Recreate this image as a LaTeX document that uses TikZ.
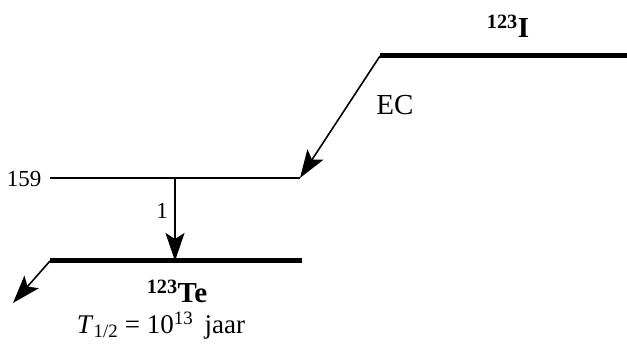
\documentclass[tikz,border=0pt]{standalone}
\usepackage{fontspec}
\setmainfont{Liberation Serif}
\usetikzlibrary{arrows.meta}
\begin{document}
\begin{tikzpicture}[x=1pt,y=-1pt,
  level/.style={line width=5pt},
  thinlevel/.style={line width=2pt},
  trans/.style={line width=1.6pt,-{Stealth[length=28pt,width=19pt,inset=6pt]}},
  lbl/.style={inner sep=0pt,font=\fontsize{29}{34}\selectfont},
  small/.style={inner sep=0pt,font=\fontsize{23}{27}\selectfont}]
\useasboundingbox (0,0) rectangle (627,347);
% levels
\coordinate (iL) at (380,56);
\coordinate (iR) at (627,56);
\coordinate (mL) at (50,178);
\coordinate (mR) at (300,178);
\coordinate (mV) at (175,178);
\coordinate (tL) at (50,261);
\coordinate (tR) at (302,261);
\coordinate (tV) at (175,261);
\coordinate (out) at (13,303);
\draw[level] (iL) -- (iR);
\draw[thinlevel] (mL) -- (mR);
\draw[level] (tL) -- (tR);
% transitions
\draw[trans] (iL) -- (mR);
\draw[trans] (mV) -- (tV);
\draw[trans] (tL) -- (out);
% labels
\node[lbl,anchor=base] (ilab) at (508,38) {\textbf{\textsuperscript{123}I}};
\node[lbl] (ec) at (395,105) {EC};
\node[small] (e159) at (24,179) {159};
\node[small] (g1) at (162,211) {1};
\node[lbl,anchor=base] (telab) at (177,303) {\textbf{\textsuperscript{123}Te}};
\node[lbl,anchor=base,font=\fontsize{27}{32}\selectfont] (half) at (161,334) {\textit{T}\textsubscript{1/2} = 10\textsuperscript{13}\, jaar};
\end{tikzpicture}
\end{document}
